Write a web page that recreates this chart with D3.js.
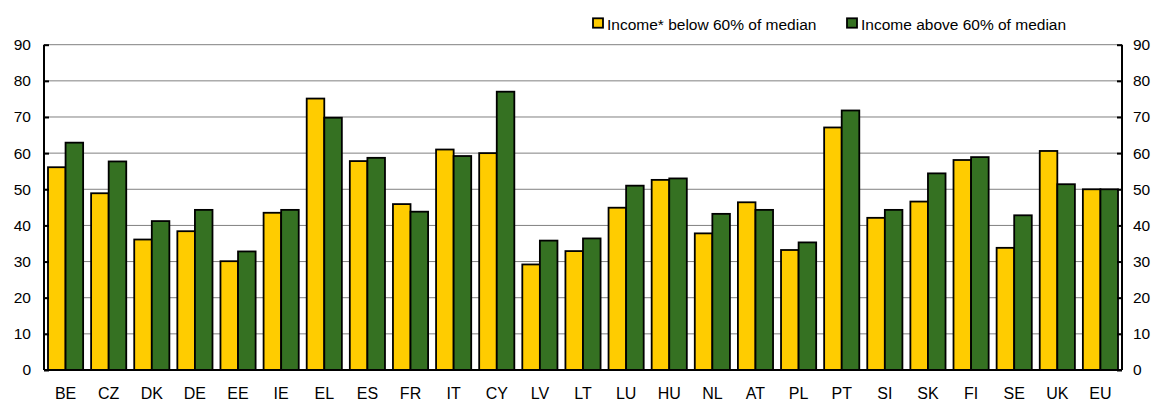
<!DOCTYPE html>
<html><head><meta charset="utf-8">
<script src="https://cdn.jsdelivr.net/npm/d3@7"></script>
<style>body{margin:0;background:#fff}svg{display:block;font-family:"Liberation Sans",Arial,sans-serif}</style>
</head><body><svg id="c" width="1153" height="404"></svg>
<script>
const categories = ["BE","CZ","DK","DE","EE","IE","EL","ES","FR","IT","CY","LV","LT","LU","HU","NL","AT","PL","PT","SI","SK","FI","SE","UK","EU"];
const below60 = [56.1,48.9,36.1,38.4,30.1,43.5,75.1,57.8,45.9,61.0,60.0,29.2,32.9,44.9,52.6,37.8,46.4,33.2,67.1,42.1,46.6,58.1,33.8,60.6,50.0];
const above60 = [62.9,57.7,41.2,44.3,32.8,44.3,69.8,58.7,43.8,59.2,77.0,35.8,36.4,51.0,53.0,43.2,44.3,35.3,71.8,44.3,54.4,58.9,42.8,51.4,50.0];
const seriesNames = ["Income* below 60% of median","Income above 60% of median"];
const seriesColors = ["#FFCC00","#357122"];
const yTicks = [0,10,20,30,40,50,60,70,80,90];

const svg = d3.select("#c");
const L = 44, R = 1122, T = 44.7, B = 370;
const x = d3.scaleBand().domain(categories).range([L, R]).paddingInner(0).paddingOuter(0);
const y = d3.scaleLinear().domain([0, 90]).range([B, T]);
const groupW = x.bandwidth() * 0.815;
const x1 = d3.scaleBand().domain([0,1]).range([0, groupW]);

// gridlines
svg.append("g").selectAll("line").data(yTicks.filter(d => d > 0)).join("line")
  .attr("x1", L).attr("x2", R).attr("y1", d => y(d)).attr("y2", d => y(d))
  .attr("stroke", "#808080").attr("stroke-width", 1);

// bars
const data = categories.map((c, i) => ({c, v: [below60[i], above60[i]]}));
const g = svg.append("g").selectAll("g").data(data).join("g")
  .attr("transform", d => `translate(${x(d.c) + (x.bandwidth() - groupW) / 2},0)`);
g.selectAll("rect").data(d => d.v.map((v, k) => ({v, k}))).join("rect")
  .attr("x", d => x1(d.k)).attr("width", x1.bandwidth())
  .attr("y", d => y(d.v)).attr("height", d => y(0) - y(d.v))
  .attr("fill", d => seriesColors[d.k]).attr("stroke", "#000").attr("stroke-width", 1.8);

// axes
const yl = svg.append("g").attr("transform", `translate(${L},0)`)
  .call(d3.axisRight(y).tickValues(yTicks).tickSize(5).tickFormat(""));
const yr = svg.append("g").attr("transform", `translate(${R},0)`)
  .call(d3.axisLeft(y).tickValues(yTicks).tickSize(5).tickFormat(""));
[yl, yr].forEach(a => { a.select(".domain").attr("stroke", "#000").attr("stroke-width", 2).attr("d", `M0,${T}V${B}`); a.selectAll(".tick line").attr("stroke", "#000").attr("stroke-width", 2); });

svg.append("g").selectAll("text").data(yTicks).join("text")
  .attr("x", 31).attr("y", d => y(d)).attr("dy", "0.35em").attr("text-anchor", "end")
  .attr("font-size", 15.5).text(d => d);
svg.append("g").selectAll("text").data(yTicks).join("text")
  .attr("x", 1133).attr("y", d => y(d)).attr("dy", "0.35em").attr("text-anchor", "start")
  .attr("font-size", 15.5).text(d => d);

const xa = svg.append("g").attr("transform", `translate(0,${B})`)
  .call(d3.axisBottom(x).tickSize(0).tickPadding(18));
xa.select(".domain").attr("stroke", "#000").attr("stroke-width", 2).attr("d", `M${L},0H${R}`);
xa.selectAll("text").attr("font-size", 16).attr("font-family", "Liberation Sans, Arial, sans-serif").attr("fill", "#000");

// legend
const lx = [593, 847];
seriesNames.forEach((n, i) => {
  svg.append("rect").attr("x", lx[i]).attr("y", 18.3).attr("width", 10).attr("height", 9.4)
    .attr("fill", seriesColors[i]).attr("stroke", "#000").attr("stroke-width", 1.8);
  svg.append("text").attr("x", lx[i] + 14).attr("y", 24.5).attr("dy", "0.35em")
    .attr("font-size", 15.5).text(n);
});
</script></body></html>
